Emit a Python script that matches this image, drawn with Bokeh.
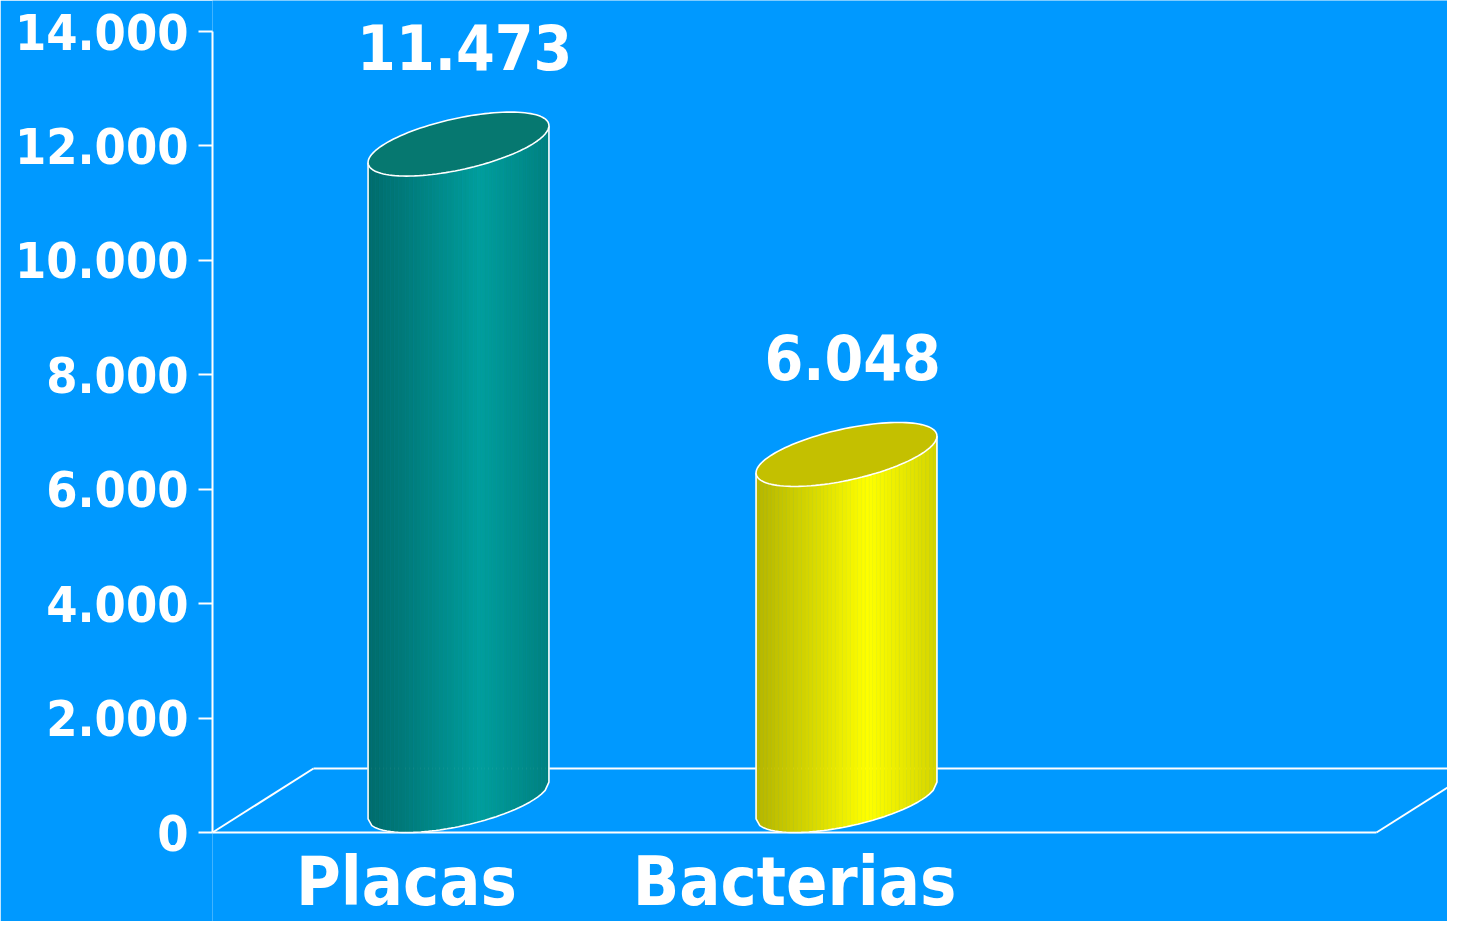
import numpy as np
from bokeh.plotting import figure
from bokeh.models import Range1d, FixedTicker, Label
from bokeh.embed import file_html
from bokeh.resources import INLINE

# ---- data ----
categories = ["Placas", "Bacterias"]
values = [11473, 6048]
value_labels = ["11.473", "6.048"]
tick_values = [0, 2000, 4000, 6000, 8000, 10000, 12000, 14000]
tick_labels = ["0", "2.000", "4.000", "6.000", "8.000", "10.000", "12.000", "14.000"]
n_slots = 3

# ---- style / geometry ----
BG = "#0099FF"
FONT = "DejaVu Sans Condensed, DejaVu Sans"
W, H = 1447, 921
LEFT = 212
PX_Y = 801.0 / 14000.0          # px per value unit
ZERO_PX = 832                   # canvas y of value 0
Y_TOP = ZERO_PX / PX_Y
Y_BOT = -(H - ZERO_PX) / PX_Y
PX_X = 388.0                    # px per category slot
X0 = -0.5
X1 = X0 + (W - LEFT) / PX_X

ell_a = 74.0 / PX_X
ell_p = 52.0 / PX_X
ell_q = 32.0 / PX_Y
floor_dx = 101.0 / PX_X
floor_dy = 64.0 / PX_Y

body_dark = [(0, 104, 104), (176, 176, 0)]
body_bright = [(0, 158, 156), (255, 255, 0)]
cap_colors = ["#067870", "#C4C000"]

p = figure(width=W, height=H, output_backend="svg", toolbar_location=None,
           x_range=Range1d(X0, X1), y_range=Range1d(Y_BOT, Y_TOP),
           x_axis_location=None, min_border_left=LEFT, min_border_right=0,
           min_border_top=0, min_border_bottom=0)
p.background_fill_color = BG
p.border_fill_color = BG
p.outline_line_color = None
p.xgrid.visible = False
p.ygrid.visible = False

ax = p.yaxis[0]
ax.ticker = FixedTicker(ticks=tick_values)
ax.bounds = (tick_values[0], tick_values[-1])
ax.major_label_overrides = {v: s for v, s in zip(tick_values, tick_labels)}
ax.axis_line_color = "white"
ax.axis_line_width = 2
ax.major_tick_line_color = "white"
ax.major_tick_line_width = 2
ax.major_tick_out = 14
ax.major_tick_in = 0
ax.minor_tick_line_color = None
ax.major_label_standoff = 10
ax.major_label_text_color = "white"
ax.major_label_text_font = FONT
ax.major_label_text_font_style = "bold"
ax.major_label_text_font_size = "50px"

# ---- floor ----
fx0, fx1 = X0, X0 + n_slots
p.multi_line(
    xs=[[fx0, fx1], [fx0 + floor_dx, fx1 + floor_dx], [fx0, fx0 + floor_dx], [fx1, fx1 + floor_dx]],
    ys=[[0, 0], [floor_dy, floor_dy], [0, floor_dy], [0, floor_dy]],
    line_color="white", line_width=2)

# ---- cylinders ----
t_r = np.arctan2(ell_p, ell_a)


def ell_pt(xc, base, t):
    cx, cy = xc + ell_p, base + ell_q
    return cx + ell_a * np.cos(t) + ell_p * np.sin(t), cy + ell_q * np.sin(t)


def intensity(f):
    if f <= 0.62:
        return 0.08 + 0.92 * (f / 0.62) ** 1.1
    return 1.0 - 0.55 * ((f - 0.62) / 0.38)


N = 48
for i, (cat, val) in enumerate(zip(categories, values)):
    xc = float(i)
    fr = np.linspace(0, 1, N + 1)
    ts = t_r - np.arccos(2 * fr - 1)
    bx, by = ell_pt(xc, 0.0, ts)
    tx, ty = ell_pt(xc, float(val), ts)
    xs, ys, cols = [], [], []
    d, b = body_dark[i], body_bright[i]
    for k in range(N):
        xs.append([bx[k], bx[k + 1], tx[k + 1], tx[k]])
        ys.append([by[k], by[k + 1], ty[k + 1], ty[k]])
        I = intensity((k + 0.5) / N)
        c = tuple(int(round(d[j] + I * (b[j] - d[j]))) for j in range(3))
        cols.append("#%02x%02x%02x" % c)
    p.patches(xs, ys, fill_color=cols, line_color=cols, line_width=0.6)
    # body outline
    ox = [tx[0]] + list(bx) + [tx[-1]]
    oy = [ty[0]] + list(by) + [ty[-1]]
    p.line(ox, oy, line_color="white", line_width=1.6)
    # top cap
    tt = np.linspace(0, 2 * np.pi, 121)
    cx_, cy_ = ell_pt(xc, float(val), tt)
    p.patch(cx_, cy_, fill_color=cap_colors[i], line_color="white", line_width=1.6)
    # value label
    p.add_layout(Label(x=xc + 0.15, y=val + 2260, text=value_labels[i],
                       text_align="center", text_baseline="middle",
                       text_color="white", text_font=FONT, text_font_style="bold",
                       text_font_size="62px"))
    # category label
    p.add_layout(Label(x=xc, y=-(881 - ZERO_PX) / PX_Y, text=cat,
                       text_align="center", text_baseline="middle",
                       text_color="white", text_font=FONT, text_font_style="bold",
                       text_font_size="68px"))

open("out.html", "w").write(file_html(p, INLINE))
